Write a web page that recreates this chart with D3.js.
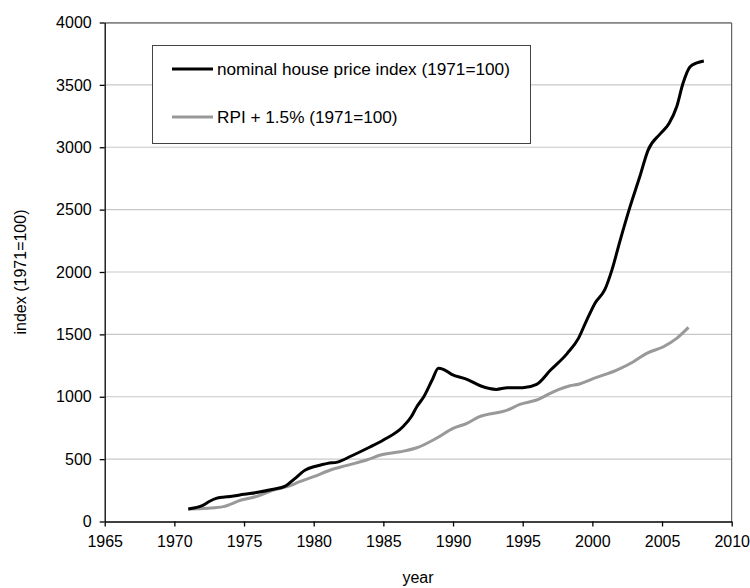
<!DOCTYPE html>
<html>
<head>
<meta charset="utf-8">
<script src="https://cdn.jsdelivr.net/npm/d3@7"></script>
<style>
  body { margin: 0; background: #fff; }
  svg text { font-family: "Liberation Sans", Arial, sans-serif; fill: #000; }
</style>
</head>
<body>
<div id="chart"></div>
<script>
// nominal house price index
const houseYears = [1971.0, 1971.5, 1972.0, 1972.5, 1973.0, 1973.5, 1974.0, 1975.0, 1976.0, 1977.0,
  1978.0, 1978.6, 1979.4, 1980.0, 1980.5, 1981.0, 1981.7, 1982.7, 1984.0, 1985.0, 1986.4, 1987.0,
  1987.4, 1987.9, 1988.5, 1988.95, 1989.3, 1989.9, 1991.0, 1992.0, 1993.1, 1993.9, 1995.0, 1996.0,
  1997.0, 1998.2, 1999.0, 1999.5, 2000.2, 2000.9, 2001.4, 2002.0, 2002.7, 2003.4, 2004.0, 2004.9,
  2005.5, 2006.05, 2006.5, 2007.0, 2007.5, 2008.0];
const houseIndex = [100, 110, 127, 160, 185, 195, 200, 218, 234, 256,
  286, 340, 413, 439, 453, 466, 476, 525, 595, 653, 760, 840,
  920, 1000, 1134, 1228, 1220, 1180, 1140, 1086, 1059, 1072, 1072, 1099,
  1214, 1348, 1468, 1590, 1752, 1860, 2015, 2256, 2522, 2763, 2977, 3111,
  3190, 3324, 3511, 3644, 3676, 3692];

// RPI + 1.5%
const rpiYears = [1971.0, 1972.4, 1973.5, 1974.8, 1976.0, 1977.1, 1978.1, 1979.0, 1980.0, 1981.2,
  1982.4, 1983.8, 1984.8, 1986.2, 1987.4, 1988.8, 1990.0, 1991.0, 1991.9, 1993.9, 1994.8, 1996.0,
  1997.2, 1998.4, 1999.0, 2000.1, 2001.75, 2002.95, 2003.9, 2005.1, 2006.05, 2006.9];
const rpiIndex = [100, 106, 119, 172, 204, 252, 279, 319, 359, 413,
  450, 493, 533, 559, 591, 667, 747, 787, 840, 893, 939, 974,
  1040, 1088, 1100, 1147, 1214, 1281, 1348, 1401, 1468, 1556];

const xTicks = [1965, 1970, 1975, 1980, 1985, 1990, 1995, 2000, 2005, 2010];
const yTicks = [0, 500, 1000, 1500, 2000, 2500, 3000, 3500, 4000];
const seriesNames = ["nominal house price index (1971=100)", "RPI + 1.5% (1971=100)"];

const W = 750, H = 588;
const margin = {top: 22.5, right: 19, bottom: 66.5, left: 104.7};
const width = 731.7 - margin.left, height = 521.5 - margin.top;

const svg = d3.select("#chart").append("svg")
  .attr("width", W).attr("height", H);
const g = svg.append("g").attr("transform", `translate(${margin.left},${margin.top})`);

const x = d3.scaleLinear().domain([1965, 2010]).range([0, width]);
const y = d3.scaleLinear().domain([0, 4000]).range([height, 0]);

// gridlines
g.append("g").selectAll("line")
  .data(yTicks.filter(d => d > 0))
  .enter().append("line")
  .attr("x1", 0).attr("x2", width)
  .attr("y1", d => y(d)).attr("y2", d => y(d))
  .attr("stroke", "#c8c8c8").attr("stroke-width", 1.2);

// plot frame (top / right)
g.append("path")
  .attr("d", `M0,0.5H${width}V${height}`)
  .attr("fill", "none").attr("stroke", "#444").attr("stroke-width", 1);

// axes
const yAxis = g.append("g")
  .call(d3.axisLeft(y).tickValues(yTicks).tickFormat(d3.format("d")).tickSize(5).tickPadding(8).tickSizeOuter(0));
const xAxis = g.append("g")
  .attr("transform", `translate(0,${height})`)
  .call(d3.axisBottom(x).tickValues(xTicks).tickFormat(d3.format("d")).tickSize(5).tickPadding(9).tickSizeOuter(0));
[xAxis, yAxis].forEach(a => {
  a.selectAll("path, line").attr("stroke", "#000").attr("stroke-width", 1.3);
  a.selectAll("text").style("font-size", "16px").style("font-family", "'Liberation Sans', Arial, sans-serif");
});

// lines
const houseData = houseYears.map((d, i) => ({year: d, v: houseIndex[i]}));
const rpiData = rpiYears.map((d, i) => ({year: d, v: rpiIndex[i]}));
const line = d3.line().x(d => x(d.year)).y(d => y(d.v)).curve(d3.curveMonotoneX);

g.append("path").datum(rpiData)
  .attr("fill", "none").attr("stroke", "#999").attr("stroke-width", 3)
  .attr("d", line);
g.append("path").datum(houseData)
  .attr("fill", "none").attr("stroke", "#000").attr("stroke-width", 3)
  .attr("d", line);

// legend
const legend = svg.append("g").attr("transform", "translate(152,45)");
legend.append("rect")
  .attr("x", 0.5).attr("y", 0.5).attr("width", 378).attr("height", 98)
  .attr("fill", "#fff").attr("stroke", "#444").attr("stroke-width", 1);
const legendColors = ["#000", "#999"];
seriesNames.forEach((name, i) => {
  const ly = 24 + i * 48;
  legend.append("line")
    .attr("x1", 20).attr("x2", 61).attr("y1", ly).attr("y2", ly)
    .attr("stroke", legendColors[i]).attr("stroke-width", 3);
  legend.append("text")
    .attr("x", 65).attr("y", ly + 6)
    .style("font-size", "17.2px")
    .text(name);
});

// axis titles
svg.append("text")
  .attr("x", 418).attr("y", 583)
  .attr("text-anchor", "middle")
  .style("font-size", "16px")
  .text("year");
svg.append("text")
  .attr("transform", "translate(26,272) rotate(-90)")
  .attr("text-anchor", "middle")
  .style("font-size", "16px")
  .text("index (1971=100)");
</script>
</body>
</html>
